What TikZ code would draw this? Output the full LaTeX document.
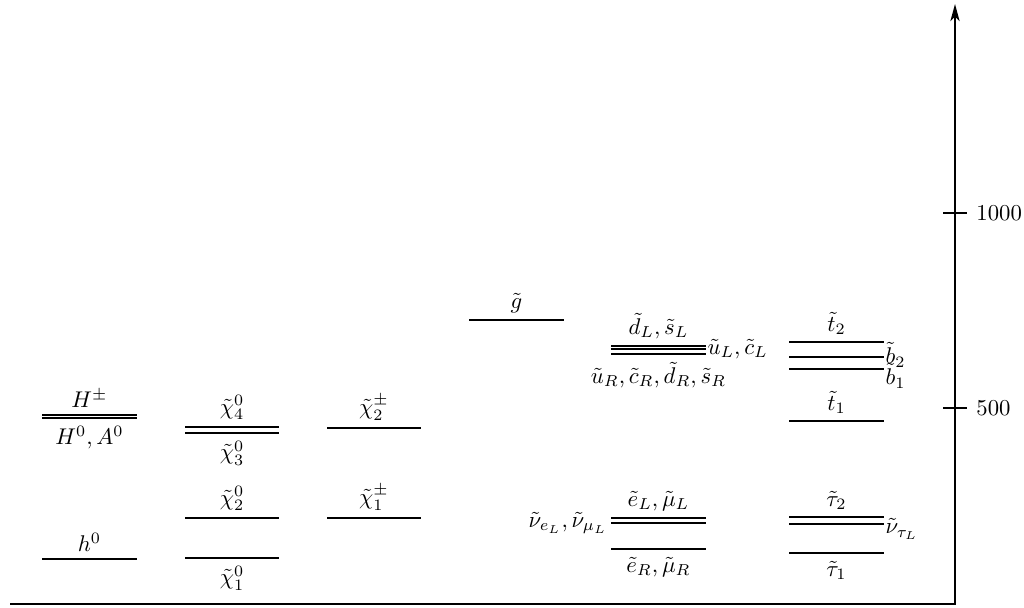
\documentclass[tikz,border=0pt]{standalone}
\usetikzlibrary{arrows.meta}
\begin{document}
\begin{tikzpicture}[x=0.44pt,y=-0.44pt,
  lvl/.style={line width=0.6pt},
  axisline/.style={line width=1.2pt},
  up/.style={anchor=south,inner sep=3pt},
  dn/.style={anchor=north,inner sep=3.5pt},
  rt/.style={anchor=west,inner sep=0.5pt},
  lf/.style={anchor=east,inner sep=1.5pt},
  ticklab/.style={anchor=west,inner sep=0pt}]
\useasboundingbox (0,0) rectangle (1024,608);
% axis
\coordinate (ax0) at (10,604);
\coordinate (axc) at (955,604);
\coordinate (axt) at (955,4);
\draw[axisline,-{Stealth[length=7.5pt,width=4pt,inset=2pt]}] (ax0) -- (axc) -- (axt);
\coordinate (t5a) at (943,408); \coordinate (t5b) at (967,408);
\coordinate (t1a) at (943,213); \coordinate (t1b) at (967,213);
\draw[axisline] (t5a) -- (t5b);
\draw[axisline] (t1a) -- (t1b);
\node[ticklab] (l500) at (976,408) {$500$};
\node[ticklab] (l1000) at (976,213) {$1000$};
% column 1: Higgs
\draw[lvl] (42,415) -- (137,415);
\draw[lvl] (42,418) -- (137,418);
\node[up] (Hpm) at (89.5,415) {$H^\pm$};
\node[dn] (H0A0) at (89.5,418) {$H^0,A^0$};
\draw[lvl] (42,559) -- (137,559);
\node[up] (h0) at (89.5,559) {$h^0$};
% column 2: neutralinos
\draw[lvl] (185,427) -- (279,427);
\draw[lvl] (185,433) -- (279,433);
\node[up] (N4) at (232,427) {$\tilde\chi^0_4$};
\node[dn] (N3) at (232,433) {$\tilde\chi^0_3$};
\draw[lvl] (185,518) -- (279,518);
\node[up] (N2) at (232,518) {$\tilde\chi^0_2$};
\draw[lvl] (185,558) -- (279,558);
\node[dn] (N1) at (232,558) {$\tilde\chi^0_1$};
% column 3: charginos
\draw[lvl] (327,428) -- (421,428);
\node[up] (C2) at (374,428) {$\tilde\chi^\pm_2$};
\draw[lvl] (327,518) -- (421,518);
\node[up] (C1) at (374,518) {$\tilde\chi^\pm_1$};
% column 4: gluino
\draw[lvl] (469,320) -- (564,320);
\node[up] (gl) at (516.5,320) {$\tilde g$};
% column 5: squarks
\draw[lvl] (611,346) -- (706,346);
\draw[lvl] (611,349) -- (706,349);
\draw[lvl] (611,354) -- (706,354);
\node[up] (dL) at (658.5,346) {$\tilde d_L,\tilde s_L$};
\node[rt] (uL) at (706,349) {$\tilde u_L,\tilde c_L$};
\node[dn] (qR) at (658.5,354) {$\tilde u_R,\tilde c_R,\tilde d_R,\tilde s_R$};
% column 5: sleptons
\draw[lvl] (611,518) -- (706,518);
\draw[lvl] (611,523) -- (706,523);
\draw[lvl] (611,549) -- (706,549);
\node[up] (eL) at (658.5,518) {$\tilde e_L,\tilde\mu_L$};
\node[lf] (nue) at (611,523) {$\tilde\nu_{e_L},\tilde\nu_{\mu_L}$};
\node[dn] (eR) at (658.5,549) {$\tilde e_R,\tilde\mu_R$};
% column 6: third generation squarks
\draw[lvl] (789,342) -- (884,342);
\draw[lvl] (789,357) -- (884,357);
\draw[lvl] (789,369) -- (884,369);
\node[up] (t2) at (836.5,342) {$\tilde t_2$};
\node[rt] (b2) at (884,355) {$\tilde b_2$};
\node[rt] (b1) at (884,376) {$\tilde b_1$};
\draw[lvl] (789,421) -- (884,421);
\node[up] (t1) at (836.5,421) {$\tilde t_1$};
% column 6: staus
\draw[lvl] (789,517) -- (884,517);
\draw[lvl] (789,524) -- (884,524);
\draw[lvl] (789,553) -- (884,553);
\node[up] (tau2) at (836.5,517) {$\tilde\tau_2$};
\node[rt] (nut) at (884,529) {$\tilde\nu_{\tau_L}$};
\node[dn] (tau1) at (836.5,553) {$\tilde\tau_1$};
\end{tikzpicture}
\end{document}
